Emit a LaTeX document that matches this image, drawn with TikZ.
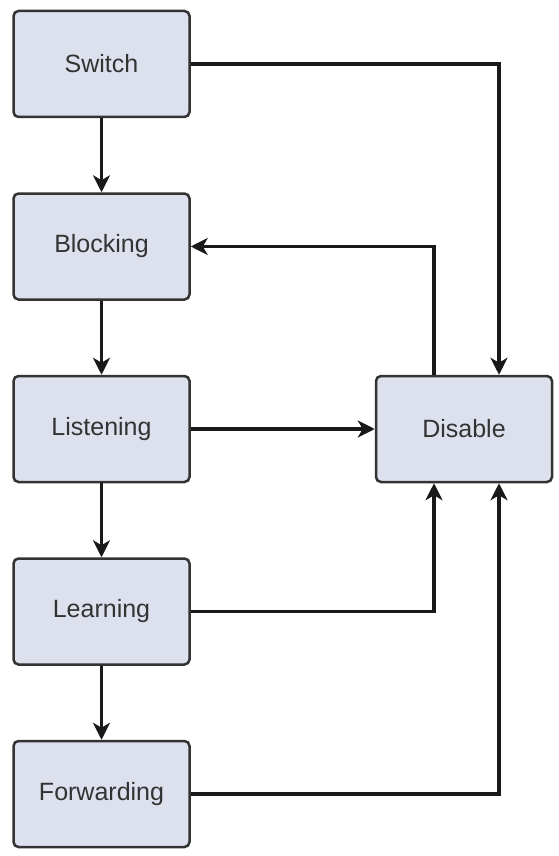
\documentclass[tikz,border=0pt]{standalone}
\usepackage{fontspec}
\setmainfont{Liberation Sans}
\usepackage{xcolor}
\usetikzlibrary{arrows.meta,positioning}
\definecolor{boxfill}{HTML}{DCE1ED}
\definecolor{boxline}{HTML}{333333}

\begin{document}
\begin{tikzpicture}[
    x=1pt, y=1pt,
    node distance=74pt,
    state/.style={rectangle, rounded corners=5pt, draw=boxline, line width=2.5pt, fill=boxfill,
        minimum width=176pt, minimum height=106pt, align=center, text=boxline,
        font=\fontsize{25}{29}\selectfont},
    arrow/.style={-{Stealth[length=17pt,width=17pt,inset=5pt]}, line width=3.2pt, black!90}
]
\useasboundingbox (0,0) rectangle (559,-856);

\node[state] (switch) at (101.5,-64) {Switch};
\node[state, below=of switch] (blocking) {Blocking};
\node[state, below=of blocking] (listening) {Listening};
\node[state, below=of listening] (learning) {Learning};
\node[state, below=of learning] (forwarding) {Forwarding};
\node[state, right=184pt of listening] (disable) {Disable};

% ports on the Disable box
\coordinate (dtopL) at ([xshift=-30pt]disable.north);
\coordinate (dtopR) at ([xshift=35pt]disable.north);
\coordinate (dbotL) at ([xshift=-30pt]disable.south);
\coordinate (dbotR) at ([xshift=35pt]disable.south);

\draw[arrow] (switch) -- (blocking);
\draw[arrow] (blocking) -- (listening);
\draw[arrow] (listening) -- (learning);
\draw[arrow] (learning) -- (forwarding);

\draw[arrow] (switch.east) -| (dtopR);
\draw[arrow] (dtopL) |- (blocking.east);
\draw[arrow] (listening) -- (disable);
\draw[arrow] (learning.east) -| (dbotL);
\draw[arrow] (forwarding.east) -| (dbotR);
\end{tikzpicture}
\end{document}
